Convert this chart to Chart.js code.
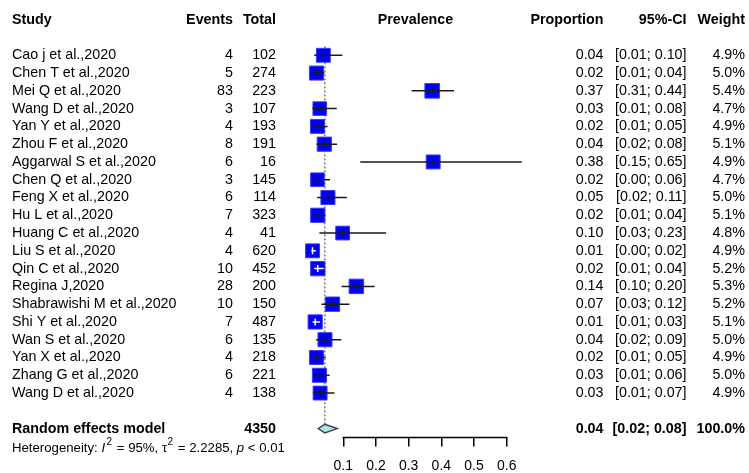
<!DOCTYPE html>
<html><head><meta charset="utf-8">
<script src="https://cdn.jsdelivr.net/npm/chart.js@4/dist/chart.umd.min.js"></script>
<style>html,body{margin:0;padding:0;background:#fff}#wrap{width:749px;height:473px;position:relative}</style>
</head><body><div id="wrap"><canvas id="c" width="749" height="473"></canvas></div>
<script>
const studies = ["Cao j et al.,2020","Chen T et al.,2020","Mei Q et al.,2020","Wang D et al.,2020","Yan Y et al.,2020","Zhou F et al.,2020","Aggarwal S et al.,2020","Chen Q et al.,2020","Feng X et al.,2020","Hu L et al.,2020","Huang C et al.,2020","Liu S et al.,2020","Qin C et al.,2020","Regina J,2020","Shabrawishi M et al.,2020","Shi Y et al.,2020","Wan S et al.,2020","Yan X et al.,2020","Zhang G et al.,2020","Wang D et al.,2020"];
const events = [4,5,83,3,4,8,6,3,6,7,4,4,10,28,10,7,6,4,6,4];
const totals = [102,274,223,107,193,191,16,145,114,323,41,620,452,200,150,487,135,218,221,138];
const proportion = [0.039,0.018,0.372,0.028,0.021,0.042,0.375,0.021,0.053,0.022,0.098,0.006,0.022,0.140,0.067,0.014,0.044,0.018,0.027,0.029];
const ciLower = [0.011,0.006,0.309,0.006,0.006,0.018,0.152,0.004,0.020,0.009,0.027,0.002,0.011,0.095,0.033,0.006,0.017,0.005,0.010,0.008];
const ciUpper = [0.097,0.042,0.439,0.080,0.052,0.081,0.646,0.059,0.111,0.045,0.231,0.016,0.040,0.196,0.119,0.029,0.094,0.046,0.058,0.073];
const weights = [4.9,5.0,5.4,4.7,4.9,5.1,4.9,4.7,5.0,5.1,4.8,4.9,5.2,5.3,5.2,5.1,5.0,4.9,5.0,4.9];
const proportionText = ["0.04","0.02","0.37","0.03","0.02","0.04","0.38","0.02","0.05","0.02","0.10","0.01","0.02","0.14","0.07","0.01","0.04","0.02","0.03","0.03"];
const ciText = ["[0.01; 0.10]","[0.01; 0.04]","[0.31; 0.44]","[0.01; 0.08]","[0.01; 0.05]","[0.02; 0.08]","[0.15; 0.65]","[0.00; 0.06]","[0.02; 0.11]","[0.01; 0.04]","[0.03; 0.23]","[0.00; 0.02]","[0.01; 0.04]","[0.10; 0.20]","[0.03; 0.12]","[0.01; 0.03]","[0.02; 0.09]","[0.01; 0.05]","[0.01; 0.06]","[0.01; 0.07]"];
const weightText = ["4.9%","5.0%","5.4%","4.7%","4.9%","5.1%","4.9%","4.7%","5.0%","5.1%","4.8%","4.9%","5.2%","5.3%","5.2%","5.1%","5.0%","4.9%","5.0%","4.9%"];
const summaryLabel = "Random effects model";
const summaryTotal = "4350";
const summaryEstimate = 0.0435;
const summaryLower = 0.023;
const summaryUpper = 0.082;
const summaryText = ["0.04","[0.02; 0.08]","100.0%"];
const headers = ["Study","Events","Total","Prevalence","Proportion","95%-CI","Weight"];
const xTicks = [0.1,0.2,0.3,0.4,0.5,0.6];
const xTickLabels = ["0.1","0.2","0.3","0.4","0.5","0.6"];

const FONT = "'Liberation Sans', Arial, sans-serif";
const SUMMARY_ROW = 21;
const HEADER_ROW = -2;
const boxSide = w => 14.6 * Math.sqrt(w / 5.4);

const forestPlugin = {
  id: 'forest',
  beforeDatasetsDraw(chart) {
    const {ctx, scales:{x, y}} = chart;
    ctx.save();
    ctx.strokeStyle = '#808080';
    ctx.lineWidth = 1.6;
    ctx.setLineDash([2, 2]);
    const px = x.getPixelForValue(summaryEstimate);
    ctx.beginPath();
    ctx.moveTo(px, y.getPixelForValue(-0.5));
    ctx.lineTo(px, y.getPixelForValue(SUMMARY_ROW) - 4);
    ctx.stroke();
    ctx.restore();
  },
  afterDatasetsDraw(chart) {
    const {ctx, scales:{x, y}} = chart;
    ctx.save();
    ctx.lineWidth = 1.5;
    for (let i = 0; i < studies.length; i++) {
      const py = y.getPixelForValue(i);
      const cx = x.getPixelForValue(proportion[i]);
      const lo = x.getPixelForValue(ciLower[i]);
      const hi = x.getPixelForValue(ciUpper[i]);
      const half = boxSide(weights[i]) / 2;
      const inside = lo >= cx - half && hi <= cx + half;
      ctx.strokeStyle = inside ? '#ffffff' : '#1a1a1a';
      ctx.beginPath();
      ctx.moveTo(lo, py); ctx.lineTo(hi, py);
      ctx.moveTo(cx, py - 3.5); ctx.lineTo(cx, py + 3.5);
      ctx.stroke();
    }
    // diamond
    const dy = y.getPixelForValue(SUMMARY_ROW);
    const dl = x.getPixelForValue(summaryLower);
    const dr = x.getPixelForValue(summaryUpper);
    const dc = x.getPixelForValue(summaryEstimate);
    ctx.beginPath();
    ctx.moveTo(dl, dy); ctx.lineTo(dc, dy - 4.3); ctx.lineTo(dr, dy); ctx.lineTo(dc, dy + 4.3); ctx.closePath();
    ctx.fillStyle = '#b0e2ec';
    ctx.fill();
    ctx.strokeStyle = '#404040';
    ctx.lineWidth = 1.3;
    ctx.stroke();
    // axis line between first and last tick
    const ab = chart.chartArea.bottom;
    ctx.strokeStyle = '#000';
    ctx.lineWidth = 1.5;
    ctx.beginPath();
    ctx.moveTo(x.getPixelForValue(xTicks[0]) - 0.75, ab);
    ctx.lineTo(x.getPixelForValue(xTicks[xTicks.length - 1]) + 0.75, ab);
    ctx.stroke();
    ctx.restore();
  },
  afterDraw(chart) {
    const {ctx, scales:{y}} = chart;
    ctx.save();
    ctx.fillStyle = '#000';
    ctx.textBaseline = 'middle';
    const hy = y.getPixelForValue(HEADER_ROW);
    ctx.font = "bold 14.3px " + FONT;
    ctx.textAlign = 'left'; ctx.fillText(headers[0], 12, hy);
    ctx.textAlign = 'right';
    ctx.fillText(headers[1], 233, hy);
    ctx.fillText(headers[2], 276, hy);
    ctx.fillText(headers[4], 603.5, hy);
    ctx.fillText(headers[5], 686.5, hy);
    ctx.fillText(headers[6], 745, hy);
    ctx.textAlign = 'center'; ctx.fillText(headers[3], 415.5, hy);
    ctx.font = "14.3px " + FONT;
    for (let i = 0; i < studies.length; i++) {
      const py = y.getPixelForValue(i);
      ctx.textAlign = 'left'; ctx.fillText(studies[i], 12, py);
      ctx.textAlign = 'right';
      ctx.fillText(String(events[i]), 233, py);
      ctx.fillText(String(totals[i]), 276, py);
      ctx.fillText(proportionText[i], 603.5, py);
      ctx.fillText(ciText[i], 686.5, py);
      ctx.fillText(weightText[i], 745, py);
    }
    const sy = y.getPixelForValue(SUMMARY_ROW);
    ctx.font = "bold 14.3px " + FONT;
    ctx.textAlign = 'left'; ctx.fillText(summaryLabel, 12, sy);
    ctx.textAlign = 'right';
    ctx.fillText(summaryTotal, 276, sy);
    ctx.fillText(summaryText[0], 603.5, sy);
    ctx.fillText(summaryText[1], 686.5, sy);
    ctx.fillText(summaryText[2], 745, sy);
    // heterogeneity line
    const ty = sy + 19.5;
    ctx.textAlign = 'left';
    let xx = 12;
    const part = (t, font, dy) => { ctx.font = font; ctx.fillText(t, xx, ty + (dy||0)); xx += ctx.measureText(t).width; };
    const n = "13.2px " + FONT, it = "italic 13.2px " + FONT, sup = "10px " + FONT;
    part("Heterogeneity: ", n);
    part("I", it);
    xx += 1.5;
    part("2", sup, -5.5);
    xx += 1;
    part(" = 95%, \u03c4", n);
    xx += 0.5;
    part("2", sup, -5.5);
    xx += 1;
    part(" = 2.2285, ", n);
    part("p", it);
    part(" < 0.01", n);
    ctx.restore();
  }
};

new Chart(document.getElementById('c'), {
  type: 'scatter',
  data: {
    datasets: [{
      data: proportion.map((p, i) => ({x: p, y: i})),
      pointStyle: 'rect',
      pointRadius: weights.map(w => boxSide(w) / Math.SQRT2),
      backgroundColor: '#0000ff',
      borderColor: '#3a3aff',
      borderWidth: 1,
      clip: false
    }]
  },
  options: {
    responsive: false,
    animation: false,
    layout: {padding: {left: 310.6, right: 209.6, top: 9.4, bottom: -13.3}},
    plugins: {legend: {display: false}, tooltip: {enabled: false}},
    scales: {
      x: {
        type: 'linear', min: 0, max: 0.7,
        afterBuildTicks: s => { s.ticks = xTicks.map(v => ({value: v})); },
        ticks: {callback: (v, i) => xTickLabels[i], color: '#000', font: {family: FONT, size: 14}, padding: 11.5, maxRotation: 0},
        grid: {drawOnChartArea: false, drawTicks: true, tickLength: 9, color: '#000', lineWidth: 1.5},
        border: {display: false}
      },
      y: {type: 'linear', reverse: true, min: -2.473, max: 21.5, display: false}
    }
  },
  plugins: [forestPlugin]
});
</script></body></html>
